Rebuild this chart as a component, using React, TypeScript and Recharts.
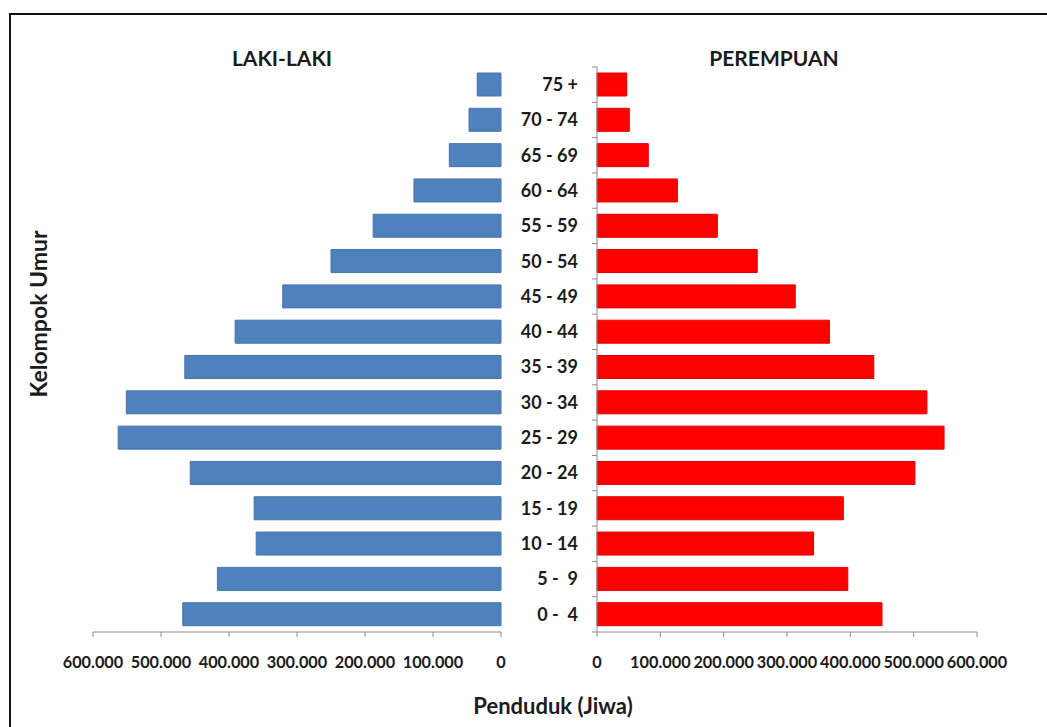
import { BarChart, Bar, XAxis, YAxis } from "recharts";

// age groups, oldest at the top
const ageGroups = [
  "75 +",
  "70 - 74",
  "65 - 69",
  "60 - 64",
  "55 - 59",
  "50 - 54",
  "45 - 49",
  "40 - 44",
  "35 - 39",
  "30 - 34",
  "25 - 29",
  "20 - 24",
  "15 - 19",
  "10 - 14",
  "5 -\u00a0\u00a09",
  "0 -\u00a0\u00a04",
];

const lakiLaki = [
  35000, 47000, 76000, 128000, 188000, 250000, 321000, 391000, 465000, 551000,
  563000, 457000, 363000, 360000, 417000, 468000,
];

const perempuan = [
  47000, 51000, 81000, 127000, 190000, 253000, 313000, 367000, 437000, 521000,
  548000, 502000, 389000, 342000, 396000, 450000,
];

const xTicks = [0, 100000, 200000, 300000, 400000, 500000, 600000];

const FONT = "Lato, 'Open Sans', sans-serif";
const TEXT = "#1b1b1b";
const AXIS = "#8a8a8a";
const PLOT_TOP = 67;
const PLOT_H = 565;

const chartData = ageGroups.map((age, i) => ({
  age,
  laki: lakiLaki[i],
  perempuan: perempuan[i],
}));

// 600000 -> "600.000"
const formatJiwa = (v: number) =>
  String(v).replace(/\B(?=(\d{3})+(?!\d))/g, ".");

const tickStyle = { fontSize: 16.3, fontWeight: 700, fill: TEXT, fontFamily: FONT };

// category label in the middle, small tick marks on the category boundaries
const AgeTick = (props: any) => {
  const { x, y, payload, index } = props;
  const step = PLOT_H / ageGroups.length;
  const axisX = x + 19;
  return (
    <g>
      <line x1={axisX - 5} x2={axisX} y1={y - step / 2} y2={y - step / 2} stroke={AXIS} />
      {index === ageGroups.length - 1 && (
        <line x1={axisX - 5} x2={axisX} y1={y + step / 2} y2={y + step / 2} stroke={AXIS} />
      )}
      <text
        x={x}
        y={y}
        dy="0.35em"
        textAnchor="end"
        fontSize={18}
        fontWeight={700}
        fill={TEXT}
        fontFamily={FONT}
        style={{ whiteSpace: "pre" }}
      >
        {payload.value}
      </text>
    </g>
  );
};

const heading: React.CSSProperties = {
  position: "absolute",
  fontFamily: FONT,
  fontWeight: 700,
  color: TEXT,
  whiteSpace: "nowrap",
  transform: "translate(-50%, -50%)",
  lineHeight: 1,
};

export default function App() {
  return (
    <div
      style={{
        position: "absolute",
        left: 0,
        top: 0,
        width: 1047,
        height: 727,
        background: "#fff",
        overflow: "hidden",
      }}
    >
      <div
        style={{
          position: "absolute",
          left: 9,
          top: 13,
          width: 1100,
          height: 800,
          borderTop: "2px solid #111",
          borderLeft: "2px solid #111",
        }}
      />

      <div style={{ ...heading, left: 282, top: 57, fontSize: 21 }}>LAKI-LAKI</div>
      <div style={{ ...heading, left: 774, top: 57, fontSize: 21 }}>PEREMPUAN</div>
      <div
        style={{
          ...heading,
          left: 38,
          top: 314,
          fontSize: 23,
          transform: "translate(-50%, -50%) rotate(-90deg)",
        }}
      >
        Kelompok Umur
      </div>
      <div style={{ ...heading, left: 553, top: 706, fontSize: 22 }}>Penduduk (Jiwa)</div>

      {/* male side, bars grow leftwards */}
      <div style={{ position: "absolute", left: 0, top: 0 }}>
        <BarChart
          width={560}
          height={727}
          data={chartData}
          layout="vertical"
          margin={{ top: PLOT_TOP, right: 59, left: 93, bottom: 55 }}
          barSize={23}
        >
          <XAxis
            type="number"
            domain={[0, 600000]}
            ticks={xTicks}
            reversed
            height={40}
            interval={0}
            tickFormatter={formatJiwa}
            tick={tickStyle}
            tickSize={5}
            tickMargin={19}
            stroke={AXIS}
          />
          <YAxis type="category" dataKey="age" hide />
          <Bar dataKey="laki" fill="#4F81BD" stroke="#4675ad" strokeWidth={1} isAnimationActive={false} />
        </BarChart>
      </div>

      {/* female side with the age labels */}
      <div style={{ position: "absolute", left: 480, top: 0 }}>
        <BarChart
          width={567}
          height={727}
          data={chartData}
          layout="vertical"
          margin={{ top: PLOT_TOP, right: 70, left: 0, bottom: 55 }}
          barSize={23}
        >
          <XAxis
            type="number"
            domain={[0, 600000]}
            ticks={xTicks}
            height={40}
            interval={0}
            tickFormatter={formatJiwa}
            tick={tickStyle}
            tickSize={5}
            tickMargin={19}
            stroke={AXIS}
          />
          <YAxis
            type="category"
            dataKey="age"
            width={117}
            interval={0}
            tickLine={false}
            tickSize={0}
            tickMargin={19}
            tick={<AgeTick />}
            stroke={AXIS}
          />
          <Bar dataKey="perempuan" fill="#FF0000" stroke="#e00000" strokeWidth={1} isAnimationActive={false} />
        </BarChart>
      </div>
    </div>
  );
}
